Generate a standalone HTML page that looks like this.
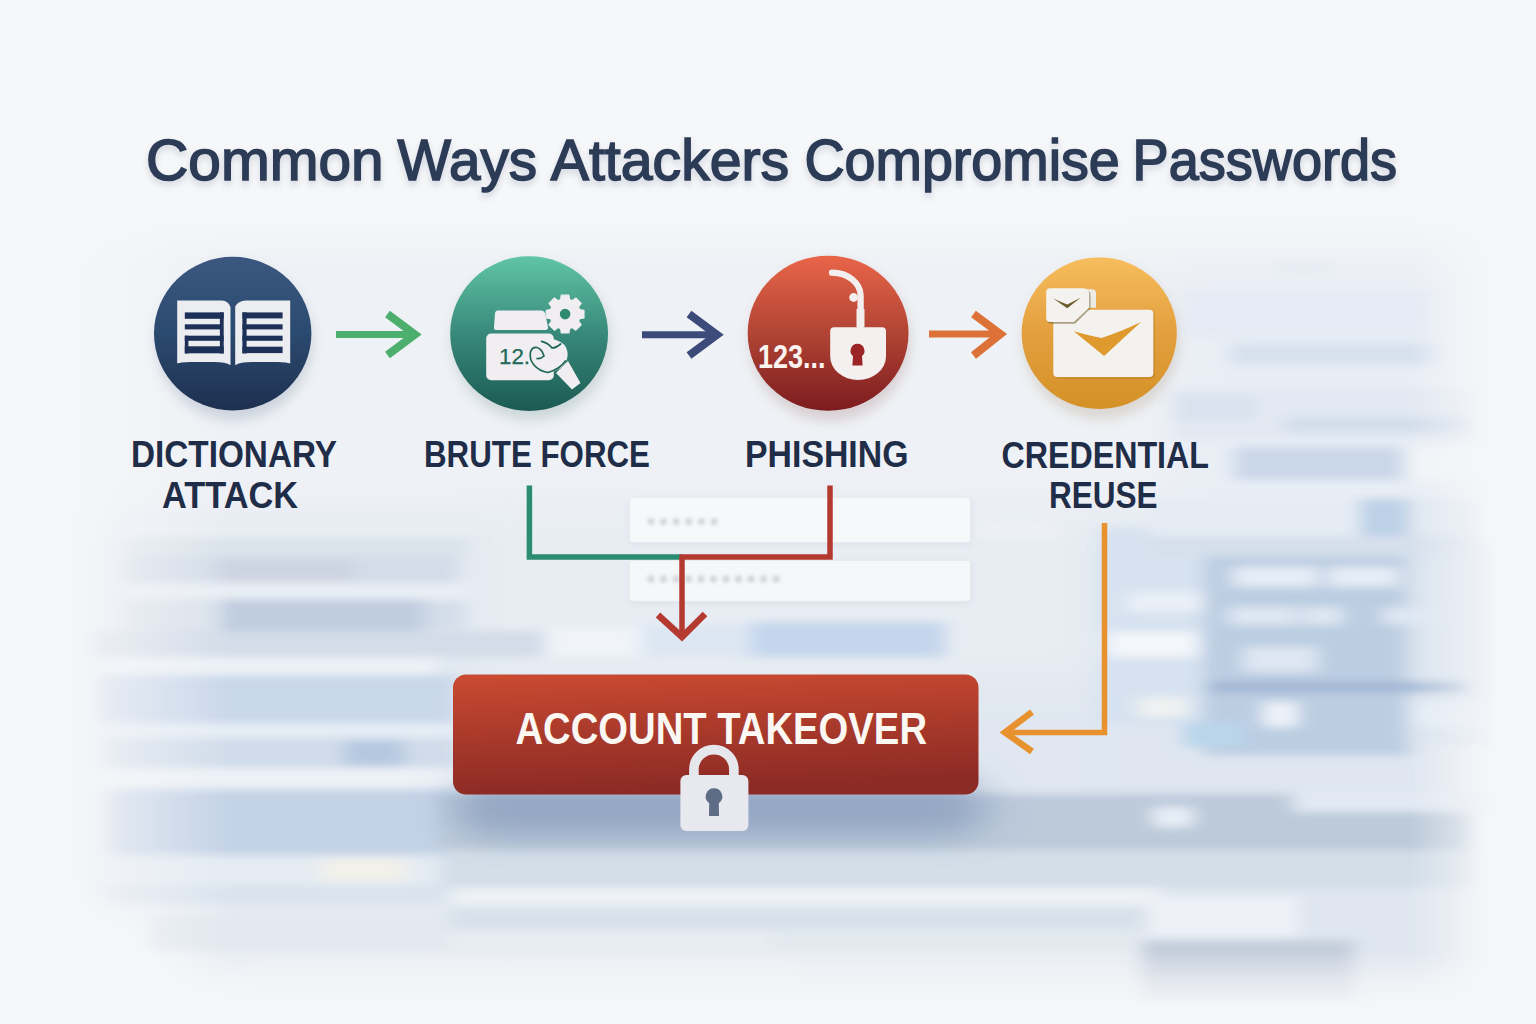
<!DOCTYPE html>
<html><head><meta charset="utf-8">
<style>
html,body{margin:0;padding:0;width:1536px;height:1024px;overflow:hidden;background:#f4f6f9}
svg{display:block;font-family:"Liberation Sans",sans-serif}
</style></head><body>
<svg width="1536" height="1024" viewBox="0 0 1536 1024">
<defs>
  <filter id="bl12" x="-20%" y="-50%" width="140%" height="200%"><feGaussianBlur stdDeviation="12 6"/></filter>
  <filter id="bl20" x="-20%" y="-50%" width="140%" height="200%"><feGaussianBlur stdDeviation="22 10"/></filter>
  <filter id="bl10" x="-20%" y="-80%" width="140%" height="260%"><feGaussianBlur stdDeviation="9 4"/></filter>
  <filter id="bl35" x="-30%" y="-50%" width="160%" height="200%"><feGaussianBlur stdDeviation="30 22"/></filter>
  <filter id="bl14" x="-20%" y="-80%" width="140%" height="260%"><feGaussianBlur stdDeviation="14 7"/></filter>
  <filter id="bl30" x="-30%" y="-100%" width="160%" height="300%"><feGaussianBlur stdDeviation="22 14"/></filter>
  <filter id="sh2" x="-10%" y="-50%" width="120%" height="200%"><feGaussianBlur stdDeviation="3"/></filter>
  <filter id="dotb" x="-10%" y="-100%" width="120%" height="300%"><feGaussianBlur stdDeviation="1.9"/></filter>
  <filter id="sh" x="-30%" y="-30%" width="160%" height="160%"><feGaussianBlur stdDeviation="6"/></filter>
  <filter id="tsh" x="-5%" y="-30%" width="110%" height="160%"><feGaussianBlur stdDeviation="3"/></filter>
  <radialGradient id="edge" cx="0.5" cy="0.6" r="0.62">
    <stop offset="0.55" stop-color="#fff" stop-opacity="1"/>
    <stop offset="1" stop-color="#fff" stop-opacity="0"/>
  </radialGradient>
  <mask id="edgeMask"><rect width="1536" height="1024" fill="url(#edge)"/></mask>
  <linearGradient id="gNavy" x1="0" y1="0" x2="0" y2="1"><stop offset="0" stop-color="#3b5780"/><stop offset="0.5" stop-color="#2b4a6f"/><stop offset="1" stop-color="#1e3050"/></linearGradient>
  <linearGradient id="gGreen" x1="0" y1="0" x2="0" y2="1"><stop offset="0" stop-color="#60c5a4"/><stop offset="0.5" stop-color="#38897b"/><stop offset="1" stop-color="#1b5a52"/></linearGradient>
  <linearGradient id="gRed" x1="0" y1="0" x2="0" y2="1"><stop offset="0" stop-color="#e96549"/><stop offset="0.5" stop-color="#b14434"/><stop offset="1" stop-color="#7c1b1f"/></linearGradient>
  <linearGradient id="gOrange" x1="0" y1="0" x2="0" y2="1"><stop offset="0" stop-color="#f7bd5c"/><stop offset="0.5" stop-color="#e39f3e"/><stop offset="1" stop-color="#d49126"/></linearGradient>
  <linearGradient id="gBtn" x1="0" y1="0" x2="0.15" y2="1"><stop offset="0" stop-color="#cc4a31"/><stop offset="0.5" stop-color="#aa3a2b"/><stop offset="1" stop-color="#8c2a25"/></linearGradient>
</defs>

<!-- BACKGROUND -->
<rect width="1536" height="1024" fill="#f6f7f9"/>
<g filter="url(#bl35)">
  <rect x="0" y="238" width="1536" height="285" fill="#eef1f5"/>
  <rect x="1170" y="270" width="300" height="260" fill="#e9eef5"/>
  <rect x="80" y="522" width="390" height="385" fill="#e0e7f0"/>
  <rect x="470" y="500" width="630" height="180" fill="#e8edf3"/>
  <rect x="470" y="680" width="630" height="227" fill="#e0e7f0"/>
  <rect x="1100" y="522" width="380" height="385" fill="#dfe6f0"/>
  <rect x="1100" y="880" width="380" height="130" fill="#dfe6ef"/>
  <rect x="180" y="905" width="950" height="95" fill="#e8edf3"/>
</g>
<g filter="url(#bl10)">
  <!-- left column bars -->
  <rect x="127" y="528" width="340" height="8" fill="#eef2f6"/>
  <rect x="127" y="536" width="340" height="21" fill="#dae3ea"/>
  <rect x="127" y="557" width="330" height="26" fill="#d3dce8"/>
  <rect x="218" y="559" width="135" height="22" fill="#cdd3e2"/>
  <rect x="127" y="583" width="340" height="16" fill="#eaeff5"/>
  <rect x="127" y="599" width="95" height="32" fill="#d9e1ea"/>
  <rect x="221" y="599" width="203" height="32" fill="#bfcde0"/>
  <rect x="424" y="601" width="40" height="28" fill="#d3dde9"/>
  <rect x="90" y="631" width="455" height="26" fill="#d3dce8"/>
  <rect x="546" y="628" width="94" height="28" fill="#f0f4f9"/>
  <rect x="750" y="622" width="196" height="35" fill="#c5d6ec"/>
  <rect x="640" y="624" width="110" height="33" fill="#dde7f3"/>
  <rect x="105" y="657" width="332" height="18" fill="#edf2f7"/>
  <rect x="100" y="675" width="355" height="48" fill="#c9d7ea"/>
  <rect x="95" y="723" width="360" height="15" fill="#e6edf5"/>
  <rect x="105" y="738" width="350" height="30" fill="#d0dcea"/>
  <rect x="344" y="740" width="60" height="26" fill="#b5c8e0"/>
  <rect x="90" y="768" width="370" height="21" fill="#edf2f7"/>
  <rect x="110" y="789" width="345" height="66" fill="#c3d2e6"/>
  <rect x="95" y="855" width="360" height="30" fill="#e4ebf3"/>
  <rect x="320" y="859" width="87" height="22" fill="#f2f1e9"/>
  <rect x="100" y="885" width="360" height="18" fill="#dae3ee"/>
  <rect x="450" y="888" width="710" height="18" fill="#eef2f6"/>
  <rect x="450" y="906" width="700" height="24" fill="#d8e1ea"/>
  <rect x="150" y="915" width="300" height="35" fill="#e2e8ef"/>
  <rect x="250" y="955" width="700" height="40" fill="#eaeef3"/>
  <rect x="770" y="930" width="370" height="20" fill="#e3e9ef"/>
  <rect x="800" y="950" width="330" height="45" fill="#e8edf2"/>
  <!-- band under button -->
  <rect x="440" y="794" width="1030" height="56" fill="#bccada"/>
  <rect x="1293" y="792" width="200" height="20" fill="#e2e9f3"/>
  <rect x="1153" y="807" width="40" height="20" fill="#e8eef6"/>
  <rect x="440" y="850" width="1030" height="38" fill="#d3dee8"/>
  <!-- right panel -->
  <rect x="1100" y="528" width="110" height="196" fill="#d6e2f0"/>
  <rect x="1204" y="540" width="206" height="215" fill="#bccde2"/>
  <rect x="1208" y="526" width="198" height="30" fill="#aec0d8"/>
  <rect x="1406" y="545" width="90" height="200" fill="#d9e3ee"/>
  <rect x="1233" y="567" width="85" height="20" fill="#e6edf6"/>
  <rect x="1328" y="567" width="70" height="20" fill="#e6edf6"/>
  <rect x="1228" y="607" width="70" height="18" fill="#dee7f3"/>
  <rect x="1303" y="607" width="40" height="18" fill="#dee7f3"/>
  <rect x="1383" y="607" width="55" height="18" fill="#dee7f3"/>
  <rect x="1243" y="647" width="75" height="25" fill="#dee7f3"/>
  <rect x="1208" y="682" width="260" height="10" fill="#9fb5d3"/>
  <rect x="1263" y="702" width="35" height="25" fill="#eef3f9"/>
  <rect x="1413" y="702" width="75" height="25" fill="#e3ebf5"/>
  <rect x="1108" y="632" width="90" height="25" fill="#f4f7fb"/>
  <rect x="1128" y="592" width="75" height="20" fill="#eaf0f7"/>
  <rect x="1138" y="697" width="50" height="20" fill="#eff2f1"/>
  <rect x="1183" y="722" width="60" height="25" fill="#bad5ea"/>
  <rect x="1148" y="897" width="150" height="40" fill="#eef2f8"/>
  <rect x="1143" y="940" width="210" height="62" fill="#c4cddb"/>
  <!-- right upper -->
  <rect x="1278" y="262" width="52" height="14" fill="#e6ecf3"/>
  <rect x="1185" y="291" width="249" height="45" fill="#e4ebf4"/>
  <rect x="1230" y="343" width="204" height="22" fill="#d7e1ee"/>
  <rect x="1174" y="388" width="297" height="52" fill="#e3e9f2"/>
  <rect x="1174" y="395" width="82" height="26" fill="#d9e2ee"/>
  <rect x="1285" y="417" width="186" height="15" fill="#d2ddeb"/>
  <rect x="1234" y="447" width="170" height="33" fill="#cad7e9"/>
  <rect x="1404" y="447" width="96" height="33" fill="#f1f4f8"/>
  <rect x="1150" y="499" width="210" height="37" fill="#e6ecf4"/>
  <rect x="1360" y="499" width="48" height="37" fill="#bcd1e7"/>
  <rect x="1408" y="499" width="70" height="37" fill="#dfe7f1"/>
  <rect x="1150" y="536" width="330" height="20" fill="#d6e0ec"/>
  <rect x="975" y="522" width="83" height="16" fill="#edf1f6"/>
</g>
<!-- button shadow -->
<g filter="url(#bl30)">
  <rect x="455" y="778" width="530" height="58" rx="28" fill="#7d92b6" opacity="0.62"/>
</g>
<!-- edge fades -->
<defs>
  <linearGradient id="fadeL" x1="0" x2="1"><stop offset="0" stop-color="#f6f7f9" stop-opacity="1"/><stop offset="0.25" stop-color="#f6f7f9" stop-opacity="0.92"/><stop offset="0.55" stop-color="#f6f7f9" stop-opacity="0.55"/><stop offset="1" stop-color="#f6f7f9" stop-opacity="0"/></linearGradient>
  <linearGradient id="fadeR" x1="1" x2="0"><stop offset="0" stop-color="#f6f7f9" stop-opacity="1"/><stop offset="0.3" stop-color="#f6f7f9" stop-opacity="0.9"/><stop offset="1" stop-color="#f6f7f9" stop-opacity="0"/></linearGradient>
  <linearGradient id="fadeB" x1="0" y1="1" x2="0" y2="0"><stop offset="0" stop-color="#f6f7f9" stop-opacity="1"/><stop offset="0.2" stop-color="#f6f7f9" stop-opacity="0.95"/><stop offset="0.6" stop-color="#f6f7f9" stop-opacity="0.6"/><stop offset="1" stop-color="#f6f7f9" stop-opacity="0"/></linearGradient>
</defs>
<rect x="0" y="0" width="230" height="1024" fill="url(#fadeL)"/>
<rect x="1410" y="0" width="126" height="1024" fill="url(#fadeR)"/>
<rect x="0" y="950" width="1536" height="74" fill="url(#fadeB)"/>

<!-- TITLE -->
<g font-size="57" fill="#8a97ab" stroke="#8a97ab" stroke-width="3" filter="url(#tsh)" opacity="0.28" transform="translate(0 4)">
  <text x="146.1" y="180.3" textLength="237.5" lengthAdjust="spacingAndGlyphs">Common</text>
  <text x="397.6" y="180.3" textLength="139.4" lengthAdjust="spacingAndGlyphs">Ways</text>
  <text x="550.8" y="180.3" textLength="238.4" lengthAdjust="spacingAndGlyphs">Attackers</text>
  <text x="804.4" y="180.3" textLength="315.4" lengthAdjust="spacingAndGlyphs">Compromise</text>
  <text x="1132.6" y="180.3" textLength="264.5" lengthAdjust="spacingAndGlyphs">Passwords</text>
</g>
<g font-size="57" fill="#2c3b56" stroke="#2c3b56" stroke-width="1.6">
  <text x="146.1" y="180.3" textLength="237.5" lengthAdjust="spacingAndGlyphs">Common</text>
  <text x="397.6" y="180.3" textLength="139.4" lengthAdjust="spacingAndGlyphs">Ways</text>
  <text x="550.8" y="180.3" textLength="238.4" lengthAdjust="spacingAndGlyphs">Attackers</text>
  <text x="804.4" y="180.3" textLength="315.4" lengthAdjust="spacingAndGlyphs">Compromise</text>
  <text x="1132.6" y="180.3" textLength="264.5" lengthAdjust="spacingAndGlyphs">Passwords</text>
</g>

<!-- CIRCLES -->
<g filter="url(#sh)" opacity="0.25">
  <circle cx="234" cy="342" r="78" fill="#6a7d99"/>
  <circle cx="531" cy="341" r="79" fill="#6a8a88"/>
  <circle cx="830" cy="341" r="80" fill="#9a7070"/>
  <circle cx="1101" cy="341" r="78" fill="#a08a70"/>
</g>
<ellipse cx="232.7" cy="333.6" rx="78.7" ry="76.8" fill="url(#gNavy)"/>
<ellipse cx="529.1" cy="333.6" rx="78.9" ry="77.3" fill="url(#gGreen)"/>
<ellipse cx="828.1" cy="333.25" rx="80.4" ry="77.6" fill="url(#gRed)"/>
<ellipse cx="1099.25" cy="333.15" rx="77.55" ry="75.75" fill="url(#gOrange)"/>

<!-- book -->
<g>
  <path d="M177.2 300.6H222Q228 301 230.5 307V365.3Q226 362 214 362H190Q180 362 177.2 363.6Z" fill="#ecedf0"/>
  <path d="M235.2 306.5Q238 301 246 300.6H290.2V363.6Q287 362 278 362H252Q240 362 235.2 365.3Z" fill="#ecedf0"/>
  <g fill="#1c3058">
    <rect x="184.8" y="312.4" width="38.9" height="6.4"/>
    <rect x="184.8" y="324.3" width="35.5" height="5.1"/>
    <rect x="184.8" y="335.7" width="38.9" height="5.1"/>
    <rect x="184.8" y="346.3" width="38.9" height="7"/>
    <rect x="219.9" y="312.4" width="3.8" height="41.1"/>
    <rect x="184.8" y="335.7" width="3.6" height="17.8"/>
    <rect x="242.4" y="312.4" width="40.2" height="6"/>
    <rect x="242.4" y="324.3" width="40.2" height="5.1"/>
    <rect x="242.4" y="335.7" width="40.2" height="5.1"/>
    <rect x="242.4" y="346.7" width="40.2" height="6.4"/>
    <rect x="242.4" y="312.4" width="4.2" height="41.1"/>
  </g>
</g>

<!-- brute force -->
<g>
  <path d="M497.5 310.5H541.5Q544 310.5 545 313L548 327Q548.5 330 545.5 330H496Q493.5 330 494 327L495 313Q495.5 310.5 497.5 310.5Z" fill="#f1eef2"/>
  <rect x="486.2" y="333.6" width="67.6" height="46.6" rx="5" fill="#f1eef2"/>
  <path d="M560.6 299.6 L561.3 295.2 L568.9 295.2 L569.6 299.6 L572.2 300.7 L575.8 298.0 L581.2 303.4 L578.5 307.0 L579.6 309.6 L584.0 310.3 L584.0 317.9 L579.6 318.6 L578.5 321.2 L581.2 324.8 L575.8 330.2 L572.2 327.5 L569.6 328.6 L568.9 333.0 L561.3 333.0 L560.6 328.6 L558.0 327.5 L554.4 330.2 L549.0 324.8 L551.7 321.2 L550.6 318.6 L546.2 317.9 L546.2 310.3 L550.6 309.6 L551.7 307.0 L549.0 303.4 L554.4 298.0 L558.0 300.7Z" fill="#f1eef2" stroke="#f1eef2" stroke-width="1.2" stroke-linejoin="round"/>
  <circle cx="565.1" cy="314.1" r="5.3" fill="#2f8a70"/>
  <text x="499" y="364" font-size="22" fill="#236a58" stroke="#236a58" stroke-width="0.25" textLength="31" lengthAdjust="spacingAndGlyphs">12.</text>
  <path d="M556 373L568 361L580.5 383L572 389.5Z" fill="#f1eef2"/>
  <path d="M531 351Q534 343 543 340.5Q551 338 556 340Q566 343 567.5 352Q568.5 360 563 366Q555 373 546 372.5Q537 371 532 364Q529 357 531 351Z" fill="#f1eef2"/>
  <path d="M565.5 361Q560 369 548 372.5Q539 371 534 365Q529 359 530.5 352Q532 347 537 347.5Q542 349 544 356Q541 359 537 358.5" fill="none" stroke="#1e6552" stroke-width="1.7" stroke-linecap="round"/>
  <path d="M541.6 341.4Q548 343 552 348Q556 348 560.6 344" fill="none" stroke="#1e6552" stroke-width="1.7" stroke-linecap="round"/>
</g>

<!-- phishing lock -->
<g>
  <path d="M832 272.7A28.6 23 0 0 1 860.6 295.6V327" fill="none" stroke="#f3efee" stroke-width="6.3" stroke-linecap="round"/>
  <rect x="856.5" y="309" width="8" height="18" fill="#f3efee"/>
  <circle cx="853.6" cy="297.5" r="4.4" fill="#f3efee"/>
  <path d="M834.2 327.3H882Q886 327.3 886 331.3V356.5A27.9 23.5 0 0 1 830.2 356.5V331.3Q830.2 327.3 834.2 327.3Z" fill="#f3f0ef"/>
  <path d="M857.5 343.8a7 7 0 0 1 4.5 12.3l0.6 9.3h-10.2l0.6-9.3a7 7 0 0 1 4.5-12.3z" fill="#9b2427"/>
  <text x="757.9" y="368" font-size="33" font-weight="bold" fill="#fbf3ef" textLength="67.6" lengthAdjust="spacingAndGlyphs">123...</text>
</g>

<!-- envelope -->
<g>
  <rect x="1055" y="311.5" width="100" height="67.3" rx="4" fill="#a9762a" opacity="0.35"/>
  <rect x="1053.3" y="309.7" width="100" height="67.3" rx="4" fill="#f4f2ee"/>
  <path d="M1073.8 331.3Q1090 336 1101.5 338Q1120 332 1141 322L1104.1 355.9Z" fill="#df9a2e"/>
  <path d="M1052 289.2H1092Q1096 289.2 1096 293.2V307.7H1052Z" fill="#ecebe6"/>
  <path d="M1051 289.9H1085Q1090.5 289.9 1090.5 295.4V308.5L1075 323.8H1051.5Q1047.5 323.8 1047.5 319.8V293.9Q1047.5 289.9 1051 289.9Z" fill="#6f5c2b" opacity="0.55"/>
  <path d="M1050.2 288.2H1083.2Q1089.2 288.2 1089.2 294.2V307.7L1073.8 322H1050.2Q1046.2 322 1046.2 318V292.2Q1046.2 288.2 1050.2 288.2Z" fill="#f4f2ee"/>
  <path d="M1053.3 298.5Q1061 302 1067.2 304.6Q1074 301 1081 297.4L1067.2 308.2Z" fill="#6b5a2a"/>
</g>

<!-- ARROWS -->
<g fill="none" stroke-width="7" stroke-linejoin="miter">
  <path d="M336 334.5H412" stroke="#4caf6d"/>
  <path d="M387.5 314L415 334.5L387.5 355" stroke="#4caf6d" stroke-width="8"/>
  <path d="M642 334.8H714" stroke="#3d4b7b"/>
  <path d="M689 314L717 334.8L689 355.5" stroke="#3d4b7b" stroke-width="8"/>
  <path d="M929 334H997" stroke="#dd7238"/>
  <path d="M973.5 314L1000.5 334L973.5 355.5" stroke="#dd7238" stroke-width="8"/>
</g>

<!-- LABELS -->
<g font-weight="bold" font-size="37" fill="#1f2d48">
  <text x="131" y="467" textLength="206" lengthAdjust="spacingAndGlyphs">DICTIONARY</text>
  <text x="162" y="508" textLength="136" lengthAdjust="spacingAndGlyphs">ATTACK</text>
  <text x="424" y="467" textLength="226" lengthAdjust="spacingAndGlyphs">BRUTE FORCE</text>
  <text x="745" y="467" textLength="163.5" lengthAdjust="spacingAndGlyphs">PHISHING</text>
  <text x="1001.5" y="467.5" textLength="207.5" lengthAdjust="spacingAndGlyphs">CREDENTIAL</text>
  <text x="1049" y="508" textLength="108.5" lengthAdjust="spacingAndGlyphs">REUSE</text>
</g>

<!-- PASSWORD BOXES -->
<g filter="url(#sh2)" opacity="0.5"><rect x="630" y="500" width="341" height="44" rx="3" fill="#c9d1dc"/><rect x="630" y="562" width="341" height="41" rx="3" fill="#c9d1dc"/></g>
<rect x="629.5" y="497.6" width="341" height="45" rx="3" fill="#f7f8fa" stroke="#e7eaef" stroke-width="1"/>
<rect x="629.5" y="560.3" width="341" height="41" rx="3" fill="#f5f7f9" stroke="#e7eaef" stroke-width="1"/>
<g fill="#bdc1c8" filter="url(#dotb)"><circle cx="651.0" cy="521.6" r="2.9"/><circle cx="663.6" cy="521.6" r="2.9"/><circle cx="676.2" cy="521.6" r="2.9"/><circle cx="688.8" cy="521.6" r="2.9"/><circle cx="701.4" cy="521.6" r="2.9"/><circle cx="714.0" cy="521.6" r="2.9"/><circle cx="651.0" cy="579" r="2.9"/><circle cx="663.5" cy="579" r="2.9"/><circle cx="676.0" cy="579" r="2.9"/><circle cx="688.5" cy="579" r="2.9"/><circle cx="701.0" cy="579" r="2.9"/><circle cx="713.5" cy="579" r="2.9"/><circle cx="726.0" cy="579" r="2.9"/><circle cx="738.5" cy="579" r="2.9"/><circle cx="751.0" cy="579" r="2.9"/><circle cx="763.5" cy="579" r="2.9"/><circle cx="776.0" cy="579" r="2.9"/></g>

<!-- CONNECTORS -->
<g fill="none" stroke-width="5.5">
  <path d="M529.4 485.5V557H682" stroke="#2a8c72"/>
  <path d="M830 485.5V557H679.5" stroke="#b43a30"/>
  <path d="M682 557V637" stroke="#b43a30"/>
  <path d="M658 615L682 637L705 614" stroke="#b43a30" stroke-width="6.5"/>
  <path d="M1104.5 523V732.5H1006" stroke="#e8922f"/>
  <path d="M1032 712L1005 732.5L1032 751.5" stroke="#e8922f" stroke-width="6.5"/>
</g>

<!-- BUTTON -->
<rect x="453" y="674.5" width="525.5" height="120" rx="13" fill="url(#gBtn)"/>
<text x="515.5" y="744" font-size="45" font-weight="bold" fill="#fbf7f3" textLength="411.5" lengthAdjust="spacingAndGlyphs">ACCOUNT TAKEOVER</text>

<!-- LOCK -->
<path d="M693.9 776V769.6a20 20 0 0 1 40 0V776" fill="none" stroke="#e6e7ec" stroke-width="9.6"/>
<rect x="680.4" y="775" width="68" height="56" rx="6" fill="#e8e9ee"/>
<path d="M714 788.3a8.2 8.2 0 0 1 4.8 14.9l0.2 12.8h-10l0.2-12.8a8.2 8.2 0 0 1 4.8-14.9z" fill="#5e6c85"/>

</svg>
</body></html>
